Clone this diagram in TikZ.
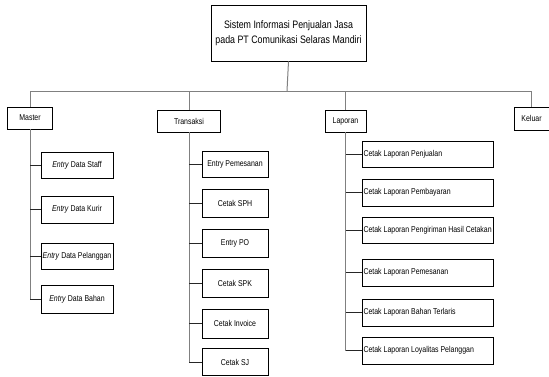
\documentclass[tikz,border=0pt]{standalone}
\usepackage{fontspec}
\setmainfont{Liberation Sans}[FakeStretch=0.82]
\usepackage{tikz}

\newcommand{\kiri}[1]{\makebox[128pt][l]{#1}}

\tikzset{
  box/.style={draw=black, line width=0.9pt, fill=white, inner sep=0pt, align=center,
    font=\fontsize{8.5}{10}\selectfont},
  leftbox/.style={box, inner xsep=1pt, minimum width=131pt},
  spine/.style={draw=black!50, line width=1pt},
  link/.style={draw=black!85, line width=1pt}
}

\begin{document}
\begin{tikzpicture}[x=1pt, y=-1pt]
		\useasboundingbox (0,0) rectangle (549,376);
		% root
		\node[box, minimum width=155pt, minimum height=56pt, font=\fontsize{10.8}{15}\selectfont] (sistem) at (288.5,33)
			{Sistem Informasi Penjualan Jasa\\pada PT Comunikasi Selaras Mandiri};
		\coordinate (bus) at (287,91);
		% menu utama
		\node[box, minimum width=45pt, minimum height=22pt] (master) at (30,118) {Master};
		\node[box, minimum width=63pt, minimum height=22pt] (transaksi) at (189,121) {Transaksi};
		\node[box, minimum width=41pt, minimum height=22pt] (laporan) at (345.5,121) {Laporan};
		\node[box, minimum width=35pt, minimum height=23pt] (keluar) at (531.5,118.5) {Keluar};
		\draw[spine] (sistem.south) -- (bus);
		\draw[spine] (master.north) |- (bus);
		\draw[spine] (transaksi.north) |- (bus);
		\draw[spine] (laporan.north) |- (bus);
		\draw[spine] (keluar.north) |- (bus);
		% master
		\node[box, minimum width=72pt, minimum height=26pt] (staff) at (77,165) {\textit{Entry} Data Staff};
		\node[box, minimum width=72pt, minimum height=27pt] (kurir) at (77,209.5) {\textit{Entry} Data Kurir};
		\node[box, minimum width=72pt, minimum height=26pt] (pelanggan) at (77,256) {\textit{Entry} Data Pelanggan};
		\node[box, minimum width=72pt, minimum height=28pt] (bahan) at (77,299) {\textit{Entry} Data Bahan};
		\draw[spine] (master.south) -- (master.south |- bahan.west);
		\draw[link] (staff.west) -- (staff.west -| master.south);
		\draw[link] (kurir.west) -- (kurir.west -| master.south);
		\draw[link] (pelanggan.west) -- (pelanggan.west -| master.south);
		\draw[link] (bahan.west) -- (bahan.west -| master.south);
		% transaksi
		\node[box, minimum width=66pt, minimum height=26pt] (pemesanan) at (235,164) {Entry Pemesanan};
		\node[box, minimum width=66pt, minimum height=28pt] (sph) at (235,203) {Cetak SPH};
		\node[box, minimum width=66pt, minimum height=28pt] (po) at (235,243) {Entry PO};
		\node[box, minimum width=66pt, minimum height=28pt] (spk) at (235,283) {Cetak SPK};
		\node[box, minimum width=66pt, minimum height=29pt] (invoice) at (235,323.5) {Cetak Invoice};
		\node[box, minimum width=66pt, minimum height=27pt] (sj) at (235,362) {Cetak SJ};
		\draw[spine] (transaksi.south) -- (transaksi.south |- sj.west);
		\draw[link] (pemesanan.west) -- (pemesanan.west -| transaksi.south);
		\draw[link] (sph.west) -- (sph.west -| transaksi.south);
		\draw[link] (po.west) -- (po.west -| transaksi.south);
		\draw[link] (spk.west) -- (spk.west -| transaksi.south);
		\draw[link] (invoice.west) -- (invoice.west -| transaksi.south);
		\draw[link] (sj.west) -- (sj.west -| transaksi.south);
		% laporan
		\node[leftbox, minimum height=26pt] (lpenjualan) at (427.5,154) {\kiri{Cetak Laporan Penjualan}};
		\node[leftbox, minimum height=27pt] (lpembayaran) at (427.5,192.5) {\kiri{Cetak Laporan Pembayaran}};
		\node[leftbox, minimum height=26pt] (lpengiriman) at (427.5,230) {\kiri{Cetak Laporan Pengiriman Hasil Cetakan}};
		\node[leftbox, minimum height=27pt] (lpemesanan) at (427.5,272.5) {\kiri{Cetak Laporan Pemesanan}};
		\node[leftbox, minimum height=27pt] (lbahan) at (427.5,312.5) {\kiri{Cetak Laporan Bahan Terlaris}};
		\node[leftbox, minimum height=27pt] (lloyalitas) at (427.5,350.5) {\kiri{Cetak Laporan Loyalitas Pelanggan}};
		\draw[spine] (laporan.south) -- (laporan.south |- lloyalitas.west);
		\draw[link] (lpenjualan.west) -- (lpenjualan.west -| laporan.south);
		\draw[link] (lpembayaran.west) -- (lpembayaran.west -| laporan.south);
		\draw[link] (lpengiriman.west) -- (lpengiriman.west -| laporan.south);
		\draw[link] (lpemesanan.west) -- (lpemesanan.west -| laporan.south);
		\draw[link] (lbahan.west) -- (lbahan.west -| laporan.south);
		\draw[link] (lloyalitas.west) -- (lloyalitas.west -| laporan.south);
	\end{tikzpicture}
\end{document}
